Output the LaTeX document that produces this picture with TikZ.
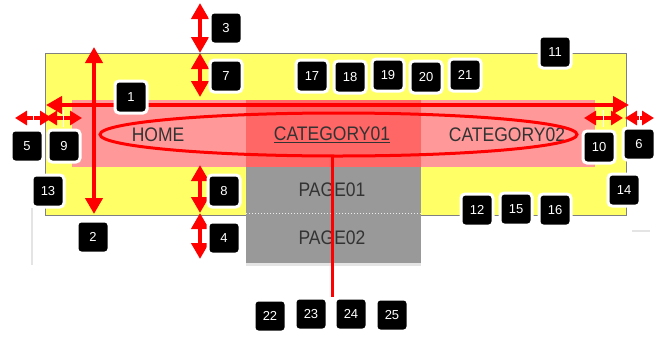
\documentclass[tikz,border=0pt]{standalone}
\usepackage{fontspec}
\setmainfont{Liberation Sans}
\usetikzlibrary{arrows.meta,shapes.geometric}
\definecolor{yel}{RGB}{255,255,102}
\definecolor{pinkA}{RGB}{255,153,153}
\definecolor{pinkB}{RGB}{255,102,102}
\definecolor{grayB}{RGB}{153,153,153}
\definecolor{txt}{RGB}{51,51,51}
\definecolor{faint}{RGB}{228,228,228}
\tikzset{
  lbl/.style={fill=black, draw=white, line width=3pt, rounded corners=4pt,
    minimum width=32pt, minimum height=32pt, inner sep=0pt, text=white,
    font=\fontsize{13}{13}\selectfont},
  bigarrow/.style={draw=red, line width=4pt, {Triangle[length=16pt,width=17pt]}-{Triangle[length=16pt,width=17pt]}},
  smallarrow/.style={draw=red, line width=3.5pt, {Triangle[length=12pt,width=14pt]}-{Triangle[length=12pt,width=14pt]}},
  tick/.style={draw=white, line width=1.2pt},
  menutext/.style={text=txt, font=\fontsize{17.5}{18}\selectfont, inner sep=0pt},
}
\begin{document}
\begin{tikzpicture}[x=1pt,y=-1pt]
\useasboundingbox (0,0) rectangle (665,338);
\fill[white] (0,0) rectangle (665,338);
% faint artefacts
\draw[faint, line width=2pt] (32,208) -- (32,265);
\draw[faint, line width=2pt] (632,231) -- (650,231);
% page frame
\draw[fill=yel, draw=gray, line width=1pt] (45,53) rectangle (626,215);
% menu band
\fill[pinkA] (72,100) rectangle (595,167);
\fill[pinkB] (246,100) rectangle (421,167);
% dropdown
\fill[faint] (246,167) rectangle (421,266);
\fill[grayB] (246,167) rectangle (421,263);
\draw[white!85!gray, line width=1pt, dotted] (246,213) -- (421,213);
% menu texts
\node[menutext] (home) at (158,135) {\scalebox{1}[1.12]{HOME}};
\node[menutext] (cat1) at (332,135) {\scalebox{1}[1.12]{\underline{CATEGORY01}}};
\node[menutext] (cat2) at (507,135) {\scalebox{1}[1.12]{CATEGORY02}};
\node[menutext] (p1) at (332,190) {\scalebox{1}[1.12]{PAGE01}};
\node[menutext] (p2) at (332,238) {\scalebox{1}[1.12]{PAGE02}};
% ellipse and its pointer
\node[ellipse, draw=red, line width=3pt, minimum width=477pt, minimum height=43pt, inner sep=0pt] (ell) at (338.5,134.5) {};
\coordinate (ptrTop) at (332,155);
\coordinate (ptrEnd) at (332,297);
\draw[red, line width=3pt] (ptrTop) -- (ptrEnd);
% measurement arrows
\coordinate (a1l) at (46,105);  \coordinate (a1r) at (629,105);
\coordinate (a2t) at (94,47);   \coordinate (a2b) at (94,214);
\coordinate (a3t) at (200,3);   \coordinate (a3b) at (200,53);
\coordinate (a7b) at (200,97);
\coordinate (a8t) at (200,165); \coordinate (a8b) at (200,213);
\coordinate (a4b) at (200,259);
\coordinate (a5l) at (15,118);  \coordinate (a5r) at (52,118);
\coordinate (a9l) at (45,118);  \coordinate (a9r) at (82,118);
\coordinate (a10l) at (584,118); \coordinate (a10r) at (623,118);
\coordinate (a6l) at (625,118);  \coordinate (a6r) at (654,118);
\draw[bigarrow] (a1l) -- (a1r);
\draw[bigarrow] (a2t) -- (a2b);
\draw[bigarrow] (a3t) -- (a3b);
\draw[bigarrow] (a3b) -- (a7b);
\draw[bigarrow] (a8t) -- (a8b);
\draw[bigarrow] (a8b) -- (a4b);
\draw[smallarrow] (a5l) -- (a5r);
\draw[smallarrow] (a9l) -- (a9r);
\draw[smallarrow] (a10l) -- (a10r);
\draw[smallarrow] (a6l) -- (a6r);
\draw[tick] (33.5,110) -- (33.5,127);
\draw[tick] (63.5,110) -- (63.5,127);
\draw[tick] (603.5,110) -- (603.5,127);
\draw[tick] (639.5,110) -- (639.5,127);
% labels
\node[lbl] (n1) at (131,97) {1};
\node[lbl] (n2) at (93,237) {2};
\node[lbl] (n3) at (226,28) {3};
\node[lbl] (n4) at (224,238) {4};
\node[lbl] (n5) at (27,146) {5};
\node[lbl] (n6) at (639,144) {6};
\node[lbl] (n7) at (226,76) {7};
\node[lbl] (n8) at (224,191) {8};
\node[lbl] (n9) at (64,146) {9};
\node[lbl] (n10) at (599,147) {10};
\node[lbl] (n11) at (555,52) {11};
\node[lbl] (n12) at (477,210) {12};
\node[lbl] (n13) at (48,191) {13};
\node[lbl] (n14) at (624,190) {14};
\node[lbl] (n15) at (516,209) {15};
\node[lbl] (n16) at (555,210) {16};
\node[lbl] (n17) at (312,76) {17};
\node[lbl] (n18) at (350,77) {18};
\node[lbl] (n19) at (388,75) {19};
\node[lbl] (n20) at (426,77) {20};
\node[lbl] (n21) at (465,75) {21};
\node[lbl] (n22) at (270,316) {22};
\node[lbl] (n23) at (311,314) {23};
\node[lbl] (n24) at (351,314) {24};
\node[lbl] (n25) at (392,315) {25};
\end{tikzpicture}
\end{document}
